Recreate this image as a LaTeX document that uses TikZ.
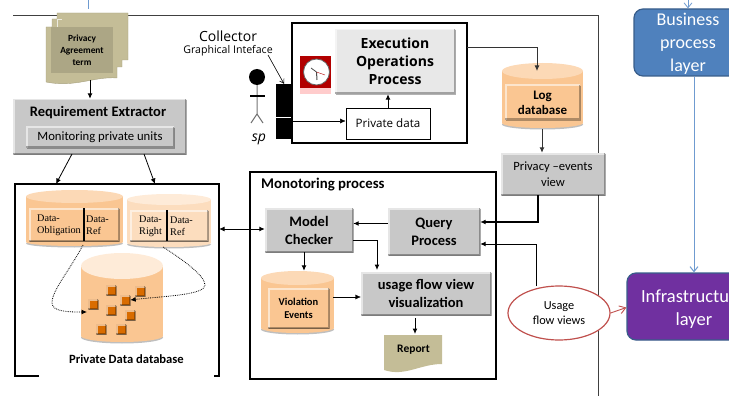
\documentclass[tikz,border=0pt]{standalone}
\usepackage{fontspec}
\setmainfont{Carlito}
\newfontfamily\tahomaf{Open Sans}
\newfontfamily\serifcell{Liberation Serif}
\usetikzlibrary{calc, arrows.meta, shadows, shapes.geometric}
\definecolor{boxgray}{HTML}{C8C8C8}
\definecolor{khaki}{HTML}{C4BD97}
\definecolor{peach}{HTML}{FAC692}
\definecolor{peachtop}{HTML}{FCD9B6}
\definecolor{paleside}{HTML}{FCDDBE}
\definecolor{paletop}{HTML}{FEEBD8}
\definecolor{layerblue}{HTML}{4F81BD}
\definecolor{layerline}{HTML}{385D8A}
\definecolor{layerarrow}{HTML}{6F9BD0}
\definecolor{layerpurple}{HTML}{7030A0}
\definecolor{ovalred}{HTML}{C0504D}
\newcommand{\fs}[2]{\fontsize{#1}{#2}\selectfont}
% name, centre x, top y, bottom y, radius x, top radius y, bottom radius y, side, lid
\newcommand{\drum}[9]{
  \fill[black,opacity=.25] (#2,#4-#7+1.5) ellipse (#5 and #7);
  \fill[#8] (#2-#5,#3+#6) rectangle (#2+#5,#4-#7);
  \fill[#8] (#2,#4-#7) ellipse (#5 and #7);
  \fill[#9] (#2,#3+#6) ellipse (#5 and #6);
  \node[inner sep=0pt, minimum width=2*#5 pt, minimum height=#4 pt-#3 pt] (#1) at (#2,#3/2+#4/2) {};
}
\tikzset{
  bevelbox/.style={fill=#1, inner sep=0pt, align=center,
    drop shadow={shadow xshift=1pt,shadow yshift=-1.2pt,fill=black,opacity=.3},
    path picture={
      \draw[white,opacity=.55,line width=3pt] (path picture bounding box.south west) -- (path picture bounding box.north west) -- (path picture bounding box.north east);
      \draw[black,opacity=.3,line width=3pt] (path picture bounding box.south west) -- (path picture bounding box.south east) -- (path picture bounding box.north east);
    }},
  flow/.style={-{Latex[length=5.5pt,width=5pt]}, black},
  layerbox/.style={rounded corners=9pt, draw=layerline, line width=1.2pt, inner sep=0pt},
  layertext/.style={text=white, align=center, inner sep=0pt},
  cell/.style={anchor=west, align=left, inner sep=0pt, font=\serifcell\fs{10.2}{12}},
  unitsq/.style={bevelbox={orange!85!black}, minimum size=10pt},
  frameline/.style={black, line width=1.2pt}
}
\begin{document}
\begin{tikzpicture}[x=1pt,y=-1pt]
  \useasboundingbox (0,0) rectangle (729,396);
  % outer frame
  \coordinate (ftl) at (13,15.5);
  \coordinate (ftr) at (598.5,15.5);
  \coordinate (fbr) at (598.5,396);
  \coordinate (topin) at (88,0);
  \coordinate (topdoc) at (88,9);
  \draw[black!75, line width=.9pt] (ftl) -- (ftr) -- (fbr);
  \draw[layerarrow, line width=1pt] (topin) -- (topdoc);

  % privacy term
  \fill[khaki, draw=khaki!85!black, line width=.4pt] (57,13) -- (128,13) -- (128,60) -- (122,60) -- (122,67) -- (117,67) -- (117,78)
    .. controls (95,76) and (75,88) .. (46,82) -- (46,27) -- (52,27) -- (52,19) -- (57,19) -- cycle;
  \draw[white!70!khaki, line width=.5pt] (52,27) -- (57,27) -- (57,19) -- (62,19);
  \node[fill=khaki!88!black, minimum width=62pt, minimum height=46pt, inner sep=0pt, align=center, font=\bfseries\fs{9.4}{12}] (term) at (82,50) {Privacy\\Agreement\\term};

  % requirement extractor
  \node[bevelbox=boxgray, minimum width=173pt, minimum height=55pt] (extractor) at (99.5,126.5) {};
  \node[inner sep=0pt, font=\bfseries\fs{14.5}{16}] (extractortitle) at (98,113) {Requirement Extractor};
  \node[bevelbox=boxgray, minimum width=148pt, minimum height=21pt, font=\fs{12.7}{15}] (units) at (100,137) {Monitoring private units};

  % private data database
  \coordinate (dbin) at (219,229);
  \draw[frameline] (39,376) -- (15,376) -- (15,184) -- (219,184) -- (219,376) -- (214,376);
  \drum{obligation}{74.5}{190}{246}{48.5}{6.5}{4}{peach}{peachtop}
  \node[bevelbox=peach, minimum width=90pt, minimum height=33pt] (obligationcell) at (74,224.5) {};
  \draw[black, line width=1.4pt] (84,208) -- (84,241);
  \node[cell] (dataob) at (37,225) {Data-\\Obligation};
  \node[cell] (dataobref) at (86,225) {Data-\\Ref};
  \drum{right}{169}{194}{247}{42}{5.5}{4}{paleside}{paletop}
  \node[bevelbox=paleside, minimum width=78pt, minimum height=31pt] (rightcell) at (169,225.5) {};
  \draw[black, line width=1.4pt] (167,210) -- (167,241);
  \node[cell] (dataright) at (139,226.5) {Data-\\Right};
  \node[cell] (datarightref) at (170,226.5) {Data-\\Ref};
  \drum{privatedb}{122}{253}{342}{41}{13}{6}{peach}{paletop}
  \node[unitsq] (u1) at (111,290) {};
  \node[unitsq] (u2) at (140,291) {};
  \node[unitsq] (u3) at (125,300) {};
  \node[unitsq] (u4) at (93,304) {};
  \node[unitsq] (u5) at (111,310) {};
  \node[unitsq] (u6) at (130,315) {};
  \node[unitsq] (u7) at (101,329) {};
  \node[unitsq] (u8) at (121,329) {};
  \node[inner sep=0pt, font=\bfseries\fs{12.6}{14}] (privatelabel) at (126.5,359) {Private Data database};
  % dotted lines
  \coordinate (dotob) at (83,245);
  \coordinate (dotdb) at (87,312);
  \coordinate (dotright) at (163,247);
  \draw[flow, densely dotted, line width=.8pt] (dotob) .. controls (70,270) and (52,290) .. (52,303) .. controls (52,312) and (70,312) .. (dotdb);
  \draw[flow, densely dotted, line width=.8pt] (dotright) .. controls (180,258) and (205,275) .. (205,285) .. controls (205,295) and (165,296) .. (u3.east);

  % collector
  \node[inner sep=0pt, font=\tahomaf\fs{14}{15}] (collector) at (228,36) {Collector};
  \node[inner sep=0pt, font=\tahomaf\fs{10.6}{11}] (gui) at (228,51) {Graphical Inteface};
  \node[fill=black, minimum width=16pt, minimum height=55pt, inner sep=0pt] (bar) at (284,111.5) {};
  \coordinate (barline) at (284,117);
  \draw[white, line width=.8pt] (bar.west |- barline) -- (bar.east |- barline);
  \coordinate (guiend) at (268,55);
  \draw[flow, -{Straight Barb[length=4pt,width=5pt]}, line width=.6pt] (guiend) -- (bar.north);
  \node[circle, fill=black, minimum size=16pt, inner sep=0pt] (head) at (257,77) {};
  \coordinate (hip) at (257,114);
  \draw[black!55, line width=1pt] (head.south) -- (hip) -- (251,123);
  \draw[black!55, line width=1pt] (hip) -- (263,123);
  \draw[black, line width=1.2pt] (250,96) -- (265,96);
  \node[inner sep=0pt, font=\tahomaf\itshape\fs{14}{16}] (sp) at (259,139) {sp};

  % execution frame
  \node[draw=black, line width=1.2pt, minimum width=175pt, minimum height=120pt, inner sep=0pt] (execframe) at (379.5,83) {};
  \node[bevelbox=black!9, minimum width=120pt, minimum height=65pt, font=\tahomaf\bfseries\fs{14}{18}] (execution) at (395,61.5) {Execution\\Operations\\Process};
  \node[draw=black, line width=.8pt, fill=white, minimum width=84pt, minimum height=31pt, inner sep=0pt, font=\tahomaf\fs{11.6}{13}] (privatedata) at (388,123.5) {Private data};
  \draw[flow, line width=1pt] (privatedata.north) -- (execution.south -| privatedata.north);
  \draw[flow] ([yshift=-9.5pt]bar.east) -- ([yshift=2.5pt]privatedata.west);
  % clock
  \fill[red!70!black] (300,56) rectangle (331,88);
  \fill[red!20] (300,88) rectangle (331,94);
  \node[circle, draw=black!60, line width=.8pt, fill=white, minimum size=26pt, inner sep=0pt] (clock) at (316.5,72) {};
  \draw[black!70, line width=1pt] (clock.center) -- (317,80);
  \draw[black!70, line width=.8pt] (clock.center) -- (311,68);
  \draw[red!70!black, line width=.4pt] (clock.center) -- (325,75);

  % log database
  \coordinate (logout) at (467,48);
  \coordinate (login) at (537,71);
  \coordinate (viewdrop) at (542,129);
  \drum{log}{542.5}{63}{128}{40.5}{8}{5}{peach}{peachtop}
  \node[bevelbox=peach, minimum width=75pt, minimum height=35pt, font=\bfseries\fs{13}{15}] (logcell) at (542.5,102.5) {Log\\database};
  \draw[flow, black!80, line width=1pt] (logout) -| (login);
  \node[bevelbox=boxgray, minimum width=104pt, minimum height=42pt, font=\fs{12.6}{16}] (eventsview) at (553,174) {Privacy --events\\view};
  \draw[flow, black!80, line width=1pt] (viewdrop) -- (eventsview.north -| viewdrop);

  % monitoring process
  \node[draw=black, line width=1.2pt, minimum width=246pt, minimum height=207pt, inner sep=0pt] (monitorframe) at (373,275.5) {};
  \node[anchor=west, inner sep=0pt, font=\bfseries\fs{14.8}{16}] (monitorlabel) at (261,185) {Monotoring process};
  \node[bevelbox=boxgray, minimum width=88pt, minimum height=44pt, font=\bfseries\fs{14.5}{18}] (checker) at (309,230) {Model\\Checker};
  \node[bevelbox=boxgray, minimum width=92pt, minimum height=47pt, font=\bfseries\fs{14.5}{18}] (query) at (434,231.5) {Query\\Process};
  \node[bevelbox=boxgray, minimum width=130pt, minimum height=43pt, font=\bfseries\fs{14.5}{18}] (usage) at (426,293.5) {usage flow view\\visualization};
  \drum{violation}{297.5}{271}{333}{36.5}{7}{5}{peach}{peachtop}
  \node[bevelbox=peach, minimum width=61pt, minimum height=40pt, font=\bfseries\fs{10.5}{13}] (violationcell) at (298.5,308) {Violation\\Events};
  \fill[khaki] (384,335) -- (442,335) -- (442,364) .. controls (420,364) and (405,377) .. (384,370) -- cycle;
  \node[inner sep=0pt, font=\bfseries\fs{11.5}{13}] (report) at (413.5,350) {Report};

  % horizontal lines
  \draw[{Latex[length=5.5pt,width=5pt]}-{Latex[length=5.5pt,width=5pt]}, black, line width=1pt] (dbin) -- (checker.west |- dbin);
  \draw[flow, line width=1.2pt] ([yshift=8pt]query.west) -- ([yshift=6.5pt]checker.east);
  \coordinate (viewturn) at (538,222);
  \coordinate (flowturn) at (536,244);
  \coordinate (violin) at (333,297);
  \draw[flow] (violin) -- (usage.west |- violin);
  \draw[flow, line width=1.2pt] ([xshift=-15pt]eventsview.south) -- (viewturn) -- (query.east |- viewturn);
  % vertical lines
  \coordinate (usagedrop) at (377,270);
  \coordinate (reportin) at (415,334);
  \coordinate (termout) at (90,80);
  \coordinate (extleft) at (72,154);
  \coordinate (extright) at (144,154);
  \coordinate (dbleft) at (56,184);
  \coordinate (dbright) at (155,184);
  \draw[flow, line width=1pt] ([yshift=-10pt]checker.east) -| (usagedrop);
  \draw[flow, line width=1pt] ([xshift=-5pt]checker.south) -- ([xshift=6.5pt]violation.north);
  \draw[flow, line width=1pt] ([xshift=-11pt,yshift=-3pt]usage.south) -- (reportin);
  \draw[flow, line width=.8pt] (extleft) -- (dbleft);
  \draw[flow, line width=.8pt] (extright) -- (dbright);
  \draw[flow, line width=1pt] (termout) -- (extractor.north -| termout);

  % usage flow views
  \node[ellipse, draw=ovalred, line width=1.2pt, fill=white, minimum width=102pt, minimum height=54pt, inner sep=0pt, align=center, font=\fs{12.3}{15}] (flowviews) at (559,313) {Usage\\flow views};
  \coordinate (flowout) at (536,286);
  \draw[flow, line width=1pt] (flowout) -- (flowturn) -- (query.east |- flowturn);

  % layers
  \node[layerbox, fill=layerblue, minimum width=120pt, minimum height=67pt] (business) at (694,42.5) {};
  \node[layertext, font=\fs{18}{23}] (businesstext) at (688,44) {Business\\process\\layer};
  \node[layerbox, fill=layerpurple, minimum width=134pt, minimum height=67pt] (infra) at (694,306.5) {};
  \node[layertext, font=\fs{18.5}{23}] (infratext) at (694,309) {\makebox[106pt][l]{Infrastructu}\\layer};
  \coordinate (businessin) at (688,0);
  \draw[-{Straight Barb[length=5pt,width=8pt]}, layerarrow, line width=.8pt] (businessin) -- (business.north -| businessin);
  \draw[-{Straight Barb[length=5pt,width=8pt]}, layerarrow, line width=1pt] (business.south) -- (infra.north);
  \draw[-{Straight Barb[length=6pt,width=8pt]}, ovalred, line width=.9pt] (flowviews.east) -- ([yshift=-1pt]infra.west);
\end{tikzpicture}
\end{document}
